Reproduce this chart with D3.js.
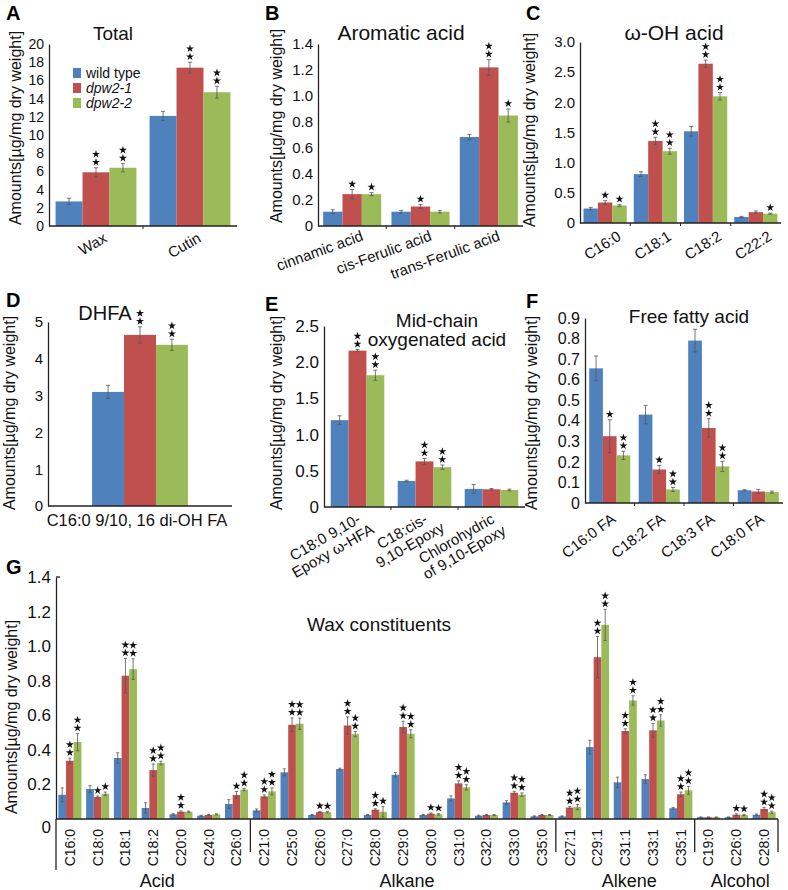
<!DOCTYPE html>
<html>
<head>
<meta charset="utf-8">
<script src="https://cdn.jsdelivr.net/npm/d3@7"></script>
<style>
body { margin: 0; background: #fff; }
svg { font-family: "Liberation Sans", Arial, sans-serif; }
</style>
</head>
<body>
<svg width="788" height="890"></svg>
<script>
var svg = d3.select("svg");

var seriesNames = ["wild type", "dpw2-1", "dpw2-2"];
var colors = ["#4F81BD", "#C0504D", "#9BBB59"];

// A - Total
var totalCats = ["Wax", "Cutin"];
var totalWT = [2.7, 12.1], totalD1 = [5.9, 17.4], totalD2 = [6.4, 14.7];
var totalErrWT = [0.35, 0.5], totalErrD1 = [0.5, 0.6], totalErrD2 = [0.45, 0.65];
var totalStarD1 = [2, 2], totalStarD2 = [2, 2];
var totalTicks = [0, 2, 4, 6, 8, 10, 12, 14, 16, 18, 20];

// B - Aromatic acid
var aroCats = ["cinnamic acid", "cis-Ferulic acid", "trans-Ferulic acid"];
var aroWT = [0.11, 0.11, 0.685], aroD1 = [0.245, 0.15, 1.22], aroD2 = [0.245, 0.11, 0.85];
var aroErrWT = [0.015, 0.01, 0.02], aroErrD1 = [0.035, 0.015, 0.06], aroErrD2 = [0.012, 0.01, 0.05];
var aroStarD1 = [1, 1, 2], aroStarD2 = [1, 0, 1];
var aroTicks = [0, 0.2, 0.4, 0.6, 0.8, 1.0, 1.2, 1.4];

// C - w-OH acid
var ohCats = ["C16:0", "C18:1", "C18:2", "C22:2"];
var ohWT = [0.24, 0.81, 1.52, 0.1], ohD1 = [0.34, 1.36, 2.64, 0.18], ohD2 = [0.29, 1.19, 2.1, 0.155];
var ohErrWT = [0.02, 0.04, 0.08, 0.01], ohErrD1 = [0.03, 0.06, 0.06, 0.02], ohErrD2 = [0.015, 0.05, 0.06, 0.01];
var ohStarD1 = [1, 2, 2, 0], ohStarD2 = [1, 2, 2, 1];
var ohTicks = [0, 0.5, 1.0, 1.5, 2.0, 2.5, 3.0];

// D - DHFA
var dhCats = ["C16:0 9/10, 16 di-OH FA"];
var dhWT = [3.1], dhD1 = [4.65], dhD2 = [4.38];
var dhErrWT = [0.18], dhErrD1 = [0.22], dhErrD2 = [0.15];
var dhStarD1 = [2], dhStarD2 = [2];
var dhTicks = [0, 1, 2, 3, 4, 5];

// E - Mid-chain oxygenated acid
var midCats = ["C18:0 9,10-\nEpoxy \u03c9-HFA", "C18:cis-\n9,10-Epoxy", "Chlorohydric\nof 9,10-Epoxy"];
var midWT = [1.2, 0.36, 0.25], midD1 = [2.16, 0.63, 0.245], midD2 = [1.82, 0.55, 0.235];
var midErrWT = [0.06, 0.01, 0.06], midErrD1 = [0.015, 0.04, 0.01], midErrD2 = [0.07, 0.03, 0.012];
var midStarD1 = [2, 2, 0], midStarD2 = [2, 2, 0];
var midTicks = [0, 0.5, 1.0, 1.5, 2.0, 2.5];

// F - Free fatty acid
var ffaCats = ["C16:0 FA", "C18:2 FA", "C18:3 FA", "C18:0 FA"];
var ffaWT = [0.655, 0.43, 0.79, 0.062], ffaD1 = [0.325, 0.163, 0.365, 0.056], ffaD2 = [0.232, 0.066, 0.178, 0.053];
var ffaErrWT = [0.06, 0.045, 0.055, 0.003], ffaErrD1 = [0.08, 0.02, 0.045, 0.01], ffaErrD2 = [0.02, 0.01, 0.025, 0.005];
var ffaStarD1 = [1, 1, 2, 0], ffaStarD2 = [2, 2, 2, 0];
var ffaTicks = [0, 0.1, 0.2, 0.3, 0.4, 0.5, 0.6, 0.7, 0.8, 0.9];

// G - Wax constituents
var waxGroups = ["Acid", "Alkane", "Alkene", "Alcohol"];
var waxGroupSizes = [7, 11, 5, 3];
var waxCats = ["C16:0", "C18:0", "C18:1", "C18:2", "C20:0", "C24:0", "C26:0",
  "C21:0", "C25:0", "C26:0", "C27:0", "C28:0", "C29:0", "C30:0", "C31:0", "C32:0", "C33:0", "C35:0",
  "C27:1", "C29:1", "C31:1", "C33:1", "C35:1",
  "C19:0", "C26:0", "C28:0"];
var waxWT = [0.14, 0.173, 0.353, 0.064, 0.027, 0.019, 0.087,
  0.05, 0.27, 0.023, 0.289, 0.023, 0.256, 0.023, 0.119, 0.019, 0.096, 0.015,
  0.015, 0.416, 0.212, 0.231, 0.062,
  0.01, 0.01, 0.025];
var waxD1 = [0.337, 0.127, 0.829, 0.283, 0.042, 0.023, 0.139,
  0.131, 0.545, 0.04, 0.541, 0.054, 0.532, 0.031, 0.206, 0.023, 0.152, 0.023,
  0.066, 0.936, 0.509, 0.513, 0.143,
  0.01, 0.025, 0.058];
var waxD2 = [0.445, 0.146, 0.867, 0.324, 0.042, 0.027, 0.17,
  0.16, 0.551, 0.039, 0.491, 0.042, 0.493, 0.027, 0.183, 0.023, 0.141, 0.023,
  0.069, 1.123, 0.686, 0.57, 0.166,
  0.01, 0.023, 0.039];
var waxErrWT = [0.04, 0.02, 0.03, 0.03, 0.004, 0.003, 0.025,
  0.008, 0.02, 0.003, 0.005, 0.003, 0.013, 0.003, 0.015, 0.003, 0.01, 0.003,
  0.003, 0.04, 0.03, 0.025, 0.005,
  0.002, 0.002, 0.004];
var waxErrD1 = [0.015, 0.006, 0.1, 0.035, 0.005, 0.003, 0.02,
  0.008, 0.04, 0.004, 0.05, 0.005, 0.033, 0.004, 0.015, 0.003, 0.008, 0.003,
  0.006, 0.12, 0.013, 0.04, 0.013,
  0.002, 0.005, 0.008];
var waxErrD2 = [0.05, 0.01, 0.06, 0.01, 0.004, 0.003, 0.006,
  0.02, 0.033, 0.004, 0.015, 0.03, 0.023, 0.004, 0.015, 0.003, 0.01, 0.003,
  0.015, 0.09, 0.027, 0.033, 0.023,
  0.002, 0.004, 0.006];
var waxStarD1 = [2, 1, 2, 2, 2, 0, 1, 2, 2, 1, 2, 2, 2, 1, 2, 0, 2, 0, 2, 2, 2, 2, 2, 0, 1, 2];
var waxStarD2 = [2, 1, 2, 2, 0, 0, 2, 2, 2, 1, 2, 1, 2, 1, 2, 0, 2, 0, 2, 2, 2, 2, 2, 0, 1, 2];
var waxTicks = [0, 0.2, 0.4, 0.6, 0.8, 1.0, 1.2, 1.4];

var yTitle = "Amounts[\u00b5g/mg dry weight]";
var star = d3.symbol().type(d3.symbolStar).size(20);

function fmt1(d) { return d === 0 ? "0" : d3.format(".1f")(d); }

function drawPanel(p) {
  var g = svg.append("g");
  var x0 = d3.scaleBand()
      .domain(d3.range(p.cats.length))
      .range([p.left, p.right])
      .paddingInner(p.pad)
      .paddingOuter(p.outer != null ? p.outer : p.pad / 2);
  var x1 = d3.scaleBand().domain([0, 1, 2]).range([0, x0.bandwidth()]);
  var y = d3.scaleLinear().domain([0, p.max]).range([p.bottom, p.top]);

  var rows = [];
  p.cats.forEach(function(c, i) {
    for (var s = 0; s < 3; s++) {
      rows.push({cat: i, s: s, v: p.vals[s][i], e: p.errs[s][i],
        star: s === 0 ? 0 : p.stars[s - 1][i]});
    }
  });

  g.selectAll(".bar")
    .data(rows)
    .enter().append("rect")
      .attr("class", "bar")
      .attr("x", function(d) { return x0(d.cat) + x1(d.s); })
      .attr("width", x1.bandwidth())
      .attr("y", function(d) { return y(d.v); })
      .attr("height", function(d) { return y(0) - y(d.v); })
      .attr("fill", function(d) { return colors[d.s]; });

  var cap = Math.min(4, x1.bandwidth() * 0.4);
  var eb = g.selectAll(".err")
    .data(rows)
    .enter().append("g")
      .attr("class", "err")
      .attr("stroke", "#555")
      .attr("stroke-width", 0.8)
      .attr("transform", function(d) { return "translate(" + (x0(d.cat) + x1(d.s) + x1.bandwidth() / 2) + ",0)"; });
  eb.append("line")
      .attr("y1", function(d) { return y(Math.max(0, d.v - d.e)); })
      .attr("y2", function(d) { return y(d.v + d.e); });
  eb.append("line")
      .attr("x1", -cap / 2).attr("x2", cap / 2)
      .attr("y1", function(d) { return y(d.v + d.e); })
      .attr("y2", function(d) { return y(d.v + d.e); });
  eb.append("line")
      .attr("x1", -cap / 2).attr("x2", cap / 2)
      .attr("y1", function(d) { return y(Math.max(0, d.v - d.e)); })
      .attr("y2", function(d) { return y(Math.max(0, d.v - d.e)); });

  // significance stars
  rows.forEach(function(d) {
    for (var k = 0; k < d.star; k++) {
      g.append("path")
        .attr("d", star)
        .attr("fill", "#111")
        .attr("transform", "translate(" + (x0(d.cat) + x1(d.s) + x1.bandwidth() / 2) + "," +
          (y(d.v + d.e) - 5.5 - k * 8) + ")");
    }
  });

  // y axis
  var ya = g.append("g")
      .attr("transform", "translate(" + p.left + ",0)")
      .call(d3.axisLeft(y).tickValues(p.ticks).tickSize(0).tickPadding(5).tickFormat(p.fmt));
  ya.select(".domain").attr("stroke", "#222").attr("stroke-width", 1.3);
  ya.selectAll("text").attr("font-size", p.tickSize).attr("fill", "#111")
    .attr("font-family", "Liberation Sans, Arial, sans-serif");

  // x axis
  g.append("line")
      .attr("x1", p.left).attr("x2", p.right)
      .attr("y1", p.bottom).attr("y2", p.bottom)
      .attr("stroke", "#222").attr("stroke-width", 1.3);
  if (!p.vertical) {
    for (var i = 1; i < p.cats.length; i++) {
      var bx = p.left + i * x0.step();
      g.append("line").attr("x1", bx).attr("x2", bx)
        .attr("y1", p.bottom).attr("y2", p.bottom + 3)
        .attr("stroke", "#222");
    }
  }

  // category labels: first line ends at the anchor point, other lines centred on it
  p.cats.forEach(function(c, i) {
    var cx = x0(i) + x0.bandwidth() / 2;
    var t = g.append("text")
        .attr("transform", "translate(" + (cx + p.lab.dx) + "," + (p.bottom + p.lab.dy) + ") rotate(" + p.lab.rot + ")")
        .attr("text-anchor", "middle")
        .attr("font-size", p.lab.size)
        .attr("fill", "#111");
    c.split("\n").forEach(function(line, k) {
      t.append("tspan").attr("x", 0).attr("dy", k ? "1.05em" : (p.lab.shift || 0)).text(line);
    });
    if (p.lab.anchor === "end") {
      var len = t.select("tspan").node().getComputedTextLength();
      t.selectAll("tspan").attr("x", -len / 2);
    }
  });

  // title
  p.title.forEach(function(line, k) {
    g.append("text")
      .attr("x", p.titleX).attr("y", p.titleY + k * 19)
      .attr("text-anchor", "middle")
      .attr("font-size", p.titleSize || 19)
      .attr("fill", "#111")
      .text(line);
  });

  // y axis title
  g.append("text")
    .attr("transform", "translate(" + p.yTitleX + "," + p.yTitleY + ") rotate(-90)")
    .attr("text-anchor", "middle")
    .attr("font-size", 16)
    .attr("fill", "#111")
    .text(yTitle);

  // panel letter
  g.append("text")
    .attr("x", p.letterX).attr("y", p.letterY)
    .attr("font-size", 20).attr("font-weight", "bold")
    .attr("fill", "#000")
    .text(p.letter);

  return {g: g, x0: x0, y: y};
}

var A = drawPanel({
  letter: "A", letterX: 6, letterY: 20,
  cats: totalCats, vals: [totalWT, totalD1, totalD2], errs: [totalErrWT, totalErrD1, totalErrD2],
  stars: [totalStarD1, totalStarD2], ticks: totalTicks, fmt: d3.format("d"), tickSize: 14,
  left: 49, right: 237, top: 44, bottom: 226, max: 20, pad: 0.14,
  title: ["Total"], titleX: 113, titleY: 40,
  yTitleX: 21, yTitleY: 128,
  lab: {dx: 12, dy: 15, rot: -30, anchor: "end", size: 15}
});

// legend
var legend = A.g.append("g");
seriesNames.forEach(function(n, i) {
  legend.append("rect")
    .attr("x", 73).attr("y", 68 + i * 15)
    .attr("width", 8).attr("height", 10)
    .attr("fill", colors[i]);
  legend.append("text")
    .attr("x", 86).attr("y", 73 + i * 15)
    .attr("dy", "0.35em")
    .attr("font-size", 14)
    .attr("font-style", i ? "italic" : "normal")
    .attr("fill", "#111")
    .text(n);
});

drawPanel({
  letter: "B", letterX: 265, letterY: 20,
  cats: aroCats, vals: [aroWT, aroD1, aroD2], errs: [aroErrWT, aroErrD1, aroErrD2],
  stars: [aroStarD1, aroStarD2], ticks: aroTicks, fmt: fmt1, tickSize: 15,
  left: 318, right: 523, top: 44, bottom: 226, max: 1.4, pad: 0.15,
  title: ["Aromatic acid"], titleX: 401, titleY: 40, titleSize: 21,
  yTitleX: 282, yTitleY: 126,
  lab: {dx: 12, dy: 14, rot: -20, anchor: "end", size: 15}
});

drawPanel({
  letter: "C", letterX: 526, letterY: 20,
  cats: ohCats, vals: [ohWT, ohD1, ohD2], errs: [ohErrWT, ohErrD1, ohErrD2],
  stars: [ohStarD1, ohStarD2], ticks: ohTicks, fmt: fmt1, tickSize: 15,
  left: 580, right: 781, top: 42, bottom: 223, max: 3, pad: 0.14,
  title: ["\u03c9-OH acid"], titleX: 674, titleY: 40, titleSize: 21,
  yTitleX: 535, yTitleY: 130,
  lab: {dx: 17, dy: 16, rot: -32, anchor: "end", size: 15}
});

drawPanel({
  letter: "D", letterX: 6, letterY: 307,
  cats: dhCats, vals: [dhWT, dhD1, dhD2], errs: [dhErrWT, dhErrD1, dhErrD2],
  stars: [dhStarD1, dhStarD2], ticks: dhTicks, fmt: d3.format("d"), tickSize: 15,
  left: 48, right: 232, top: 322, bottom: 506, max: 5, pad: 0, outer: 0.46,
  title: ["DHFA"], titleX: 105, titleY: 320, titleSize: 20,
  yTitleX: 15, yTitleY: 413,
  lab: {dx: -3, dy: 20, rot: 0, anchor: "middle", size: 16.5}
});

drawPanel({
  letter: "E", letterX: 265, letterY: 311,
  cats: midCats, vals: [midWT, midD1, midD2], errs: [midErrWT, midErrD1, midErrD2],
  stars: [midStarD1, midStarD2], ticks: midTicks, fmt: fmt1, tickSize: 17,
  left: 324, right: 525, top: 326, bottom: 507, max: 2.5, pad: 0.2,
  title: ["Mid-chain", "oxygenated acid"], titleX: 437, titleY: 327,
  yTitleX: 282, yTitleY: 413,
  lab: {dx: 4, dy: 15, rot: -30, anchor: "end", size: 15}
});

drawPanel({
  letter: "F", letterX: 526, letterY: 308,
  cats: ffaCats, vals: [ffaWT, ffaD1, ffaD2], errs: [ffaErrWT, ffaErrD1, ffaErrD2],
  stars: [ffaStarD1, ffaStarD2], ticks: ffaTicks, fmt: fmt1, tickSize: 16,
  left: 585, right: 783, top: 318, bottom: 503, max: 0.9, pad: 0.17,
  title: ["Free fatty acid"], titleX: 689, titleY: 323,
  yTitleX: 537, yTitleY: 413,
  lab: {dx: 7, dy: 18, rot: -37, anchor: "end", size: 15}
});

var G = drawPanel({
  letter: "G", letterX: 6, letterY: 574, vertical: true,
  cats: waxCats, vals: [waxWT, waxD1, waxD2], errs: [waxErrWT, waxErrD1, waxErrD2],
  stars: [waxStarD1, waxStarD2], ticks: waxTicks, fmt: fmt1, tickSize: 17,
  left: 56, right: 778, top: 577, bottom: 819, max: 1.4, pad: 0.17,
  title: ["Wax constituents"], titleX: 379, titleY: 631,
  yTitleX: 17, yTitleY: 717,
  lab: {dx: 0, dy: 10, rot: -90, anchor: "end", size: 14, shift: "0.35em"}
});

// G: zero label sits under the baseline, axis runs down past the labels
G.g.selectAll(".tick").filter(function(d) { return d === 0; }).select("text").attr("y", 8);
G.g.append("line").attr("x1", 56).attr("x2", 56).attr("y1", 819).attr("y2", 870)
  .attr("stroke", "#222").attr("stroke-width", 1.3);
G.g.append("line").attr("x1", 56).attr("x2", 60).attr("y1", 577).attr("y2", 577)
  .attr("stroke", "#222").attr("stroke-width", 1.3);

// group separators and names
var start = 0;
waxGroups.forEach(function(name, i) {
  var end = start + waxGroupSizes[i];
  var x1 = G.x0(start) - G.x0.step() * G.x0.paddingInner() / 2;
  var x2 = G.x0(end - 1) + G.x0.bandwidth() + G.x0.step() * G.x0.paddingInner() / 2;
  G.g.append("line").attr("x1", x2).attr("x2", x2).attr("y1", 819).attr("y2", 852)
    .attr("stroke", "#222").attr("stroke-width", 1.3);
  G.g.append("text")
    .attr("x", (x1 + x2) / 2 + 4).attr("y", 887)
    .attr("text-anchor", "middle")
    .attr("font-size", 18)
    .attr("fill", "#111")
    .text(name);
  start = end;
});
</script>
</body>
</html>
